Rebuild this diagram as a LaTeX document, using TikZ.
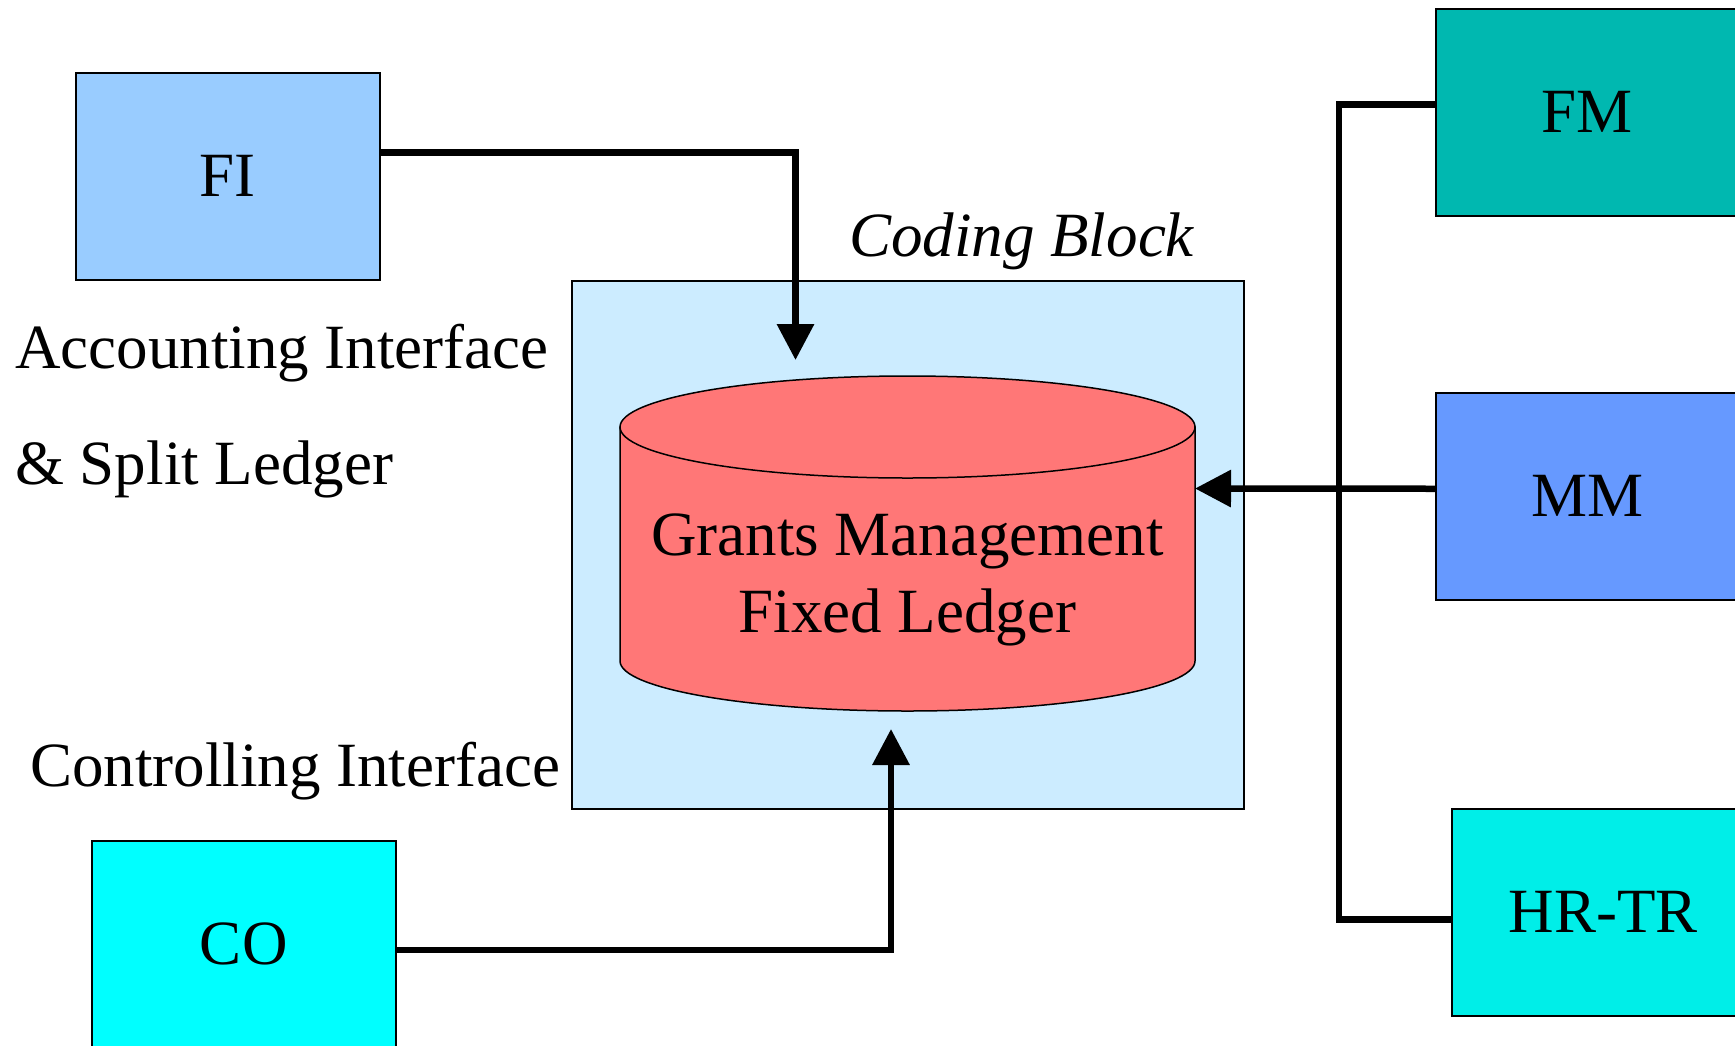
\documentclass[tikz,border=0pt]{standalone}
\usepackage{fontspec}
\setmainfont{Liberation Serif}
\usetikzlibrary{arrows.meta}
\definecolor{fiblue}{HTML}{99CCFF}
\definecolor{blockblue}{HTML}{CCECFF}
\definecolor{cylred}{HTML}{FF7777}
\definecolor{fmteal}{HTML}{00B8B0}
\definecolor{mmblue}{HTML}{6699FF}
\definecolor{hrcyan}{HTML}{00EEE8}
\definecolor{cocyan}{HTML}{00FFFF}
\tikzset{
  bigfont/.style={font=\fontsize{63}{77}\selectfont},
  modbox/.style={draw=black, line width=1.5pt, minimum width=304pt, minimum height=207pt, inner sep=0pt, anchor=north west, bigfont},
  lbl/.style={inner sep=0pt, anchor=base west, bigfont},
  conn/.style={draw=black, line width=6.5pt},
  tip/.style={-{Triangle[length=36pt,width=36pt]}}
}
\begin{document}
\begin{tikzpicture}[x=1pt,y=-1pt]
\useasboundingbox (0,0) rectangle (1735,1045);
\clip (0,0) rectangle (1735,1045);
\fill[white] (0,0) rectangle (1735,1045);

% coding block
\node[draw=black, line width=1.5pt, fill=blockblue, minimum width=672pt, minimum height=528pt, inner sep=0pt, anchor=north west] (block) at (571,280) {};
\node[lbl, font=\fontsize{63}{77}\selectfont\itshape] (cbl) at (849,256) {Coding Block};

% cylinder
\path[fill=cylred, draw=black, line width=1.5pt] (620,427) -- (620,661) arc[start angle=180, end angle=360, x radius=287.5pt, y radius=50pt] -- (1195,427) -- cycle;
\path[fill=cylred, draw=black, line width=1.5pt] (907.5,427) ellipse[x radius=287.5pt, y radius=51pt];
\node[bigfont, align=center, inner sep=0pt] (gm) at (907.5,580) {Grants Management\\Fixed Ledger};

% module boxes
\node[modbox, fill=fiblue] (fi) at (75,72) {FI};
\node[modbox, fill=cocyan, overlay] (co) at (91,840) {CO};
\node[modbox, fill=fmteal, minimum width=303pt, overlay] (fm) at (1435,8) {FM};
\node[modbox, fill=mmblue, minimum width=303pt, overlay] (mm) at (1435,392) {MM};
\node[modbox, fill=hrcyan, minimum width=303pt, overlay] (hr) at (1451,808) {HR-TR};

% labels
\node[lbl] (acc) at (15,368) {Accounting Interface};
\node[lbl] (spl) at (15,484) {\&\ Split Ledger};
\node[lbl] (ctl) at (30,786) {Controlling Interface};

% connector end points
\coordinate (fiend) at (795.5,360);
\coordinate (mmend) at (1195,488.5);
\coordinate (coend) at (891,729);

% connectors
\draw[conn, tip] ([yshift=24pt]fi.east) -| (fiend);
\draw[conn, tip] ([yshift=-5.5pt]co.east) -| (coend);
\draw[conn, tip] ([yshift=7.5pt]mm.west) -- (mmend);
\draw[conn] ([yshift=8pt]fm.west) -- ++(-96,0) |- ([yshift=-7pt]hr.west);
\end{tikzpicture}
\end{document}
